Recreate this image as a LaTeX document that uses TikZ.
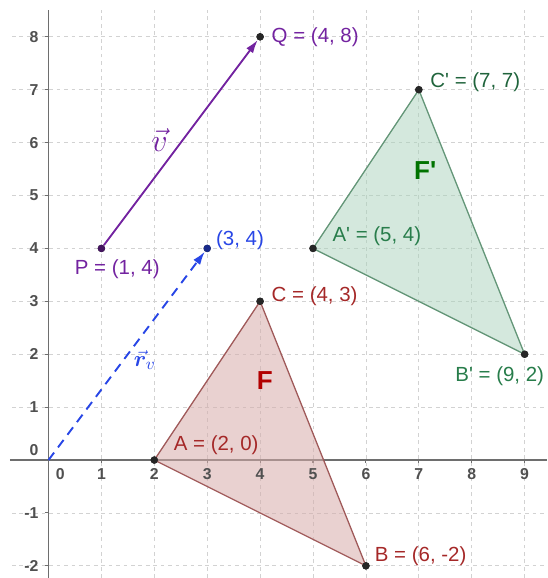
\documentclass[tikz,border=0pt]{standalone}
\usepackage{amsmath}
\usepackage{bm}
\usepackage{fontspec}
\setmainfont{Liberation Sans}
\usepackage{tikz}
\usepackage{xcolor}
\usetikzlibrary{arrows.meta, positioning}

\definecolor{vpurple}{RGB}{115,35,160}
\definecolor{rblue}{RGB}{40,70,230}
\definecolor{redlbl}{RGB}{165,40,40}
\definecolor{greenlbl}{RGB}{40,125,75}
\definecolor{fillF}{RGB}{215,172,170}
\definecolor{edgeF}{RGB}{160,90,90}
\definecolor{fillG}{RGB}{170,210,188}
\definecolor{edgeG}{RGB}{100,150,120}
\definecolor{axisgray}{RGB}{110,110,110}
\definecolor{ticklbl}{RGB}{80,80,80}

\begin{document}
\begin{tikzpicture}[
    gridline/.style={draw=gray!35, line width=0.4pt, dash pattern=on 2pt off 2pt},
    axis/.style={draw=axisgray, line width=1pt},
    ticknum/.style={font=\fontsize{8.5}{10}\selectfont\bfseries, text=ticklbl, inner sep=1pt},
    pt/.style={circle, fill=black!85, inner sep=0pt, minimum size=4pt},
    lbl/.style={font=\fontsize{11}{13}\selectfont, inner sep=1pt},
    vecarr/.style={-{Latex[length=2.5mm, width=1.6mm]}, line width=1pt}
]
\useasboundingbox (-0.917,-2.23) rectangle (9.424,8.696);

% grid
\foreach \x in {1,...,9}
  \draw[gridline] (\x,-2.23) -- (\x,8.5);
\foreach \y in {-2,...,8}
  \draw[gridline] (-0.69,\y) -- (9.424,\y);

% axes
\draw[axis] (-0.73,0) -- (9.424,0);
\draw[axis] (0,-2.23) -- (0,8.5);
\foreach \y in {-2,-1,1,2,...,8}
  \draw[axisgray, line width=0.6pt] (-0.06,\y) -- (0,\y);
\foreach \x in {1,...,9}
  \draw[axisgray, line width=0.6pt] (\x,0) -- (\x,-0.06);

% points
\coordinate (O) at (0,0);
\node[pt] (P) at (1,4) {};
\node[pt] (Q) at (4,8) {};
\node[pt] (R) at (3,4) {};
\node[pt] (A) at (2,0) {};
\node[pt] (B) at (6,-2) {};
\node[pt] (C) at (4,3) {};
\node[pt] (Ap) at (5,4) {};
\node[pt] (Bp) at (9,2) {};
\node[pt] (Cp) at (7,7) {};

% triangles
\filldraw[fill=fillF, fill opacity=0.55, draw=edgeF, line width=0.7pt] (A.center) -- (B.center) -- (C.center) -- cycle;
\filldraw[fill=fillG, fill opacity=0.5, draw=edgeG, line width=0.7pt] (Ap.center) -- (Bp.center) -- (Cp.center) -- cycle;
\foreach \n in {A,B,C,Ap,Bp,Cp}
  \fill[black!85] (\n) circle (2pt);

% tick labels
\foreach \y in {-2,-1,1,2,...,8}
  \node[ticknum, anchor=east] (ty\y) at (-0.15,\y) {\y};
\node[ticknum, anchor=east] (ty0) at (-0.15,0.18) {0};
\node[ticknum, anchor=north] (tx0) at (0.22,-0.12) {0};
\foreach \x in {1,...,9}
  \node[ticknum, anchor=north] (tx\x) at (\x,-0.12) {\x};

% vectors
\draw[vecarr, vpurple] (P) -- (Q);
\draw[vecarr, rblue, dashed, dash pattern=on 5pt off 3.5pt] (O) -- (R);
\fill[vpurple!60!black] (P) circle (2pt);
\fill[black!85] (Q) circle (2pt);
\fill[rblue!60!black] (R) circle (2pt);

\node[font=\fontsize{17}{19}\selectfont, text=vpurple] (vlbl) at (2.1,6.05) {$\vec{v}$};
\node[font=\fontsize{13}{15}\selectfont, text=rblue] (rlbl) at (1.82,1.89) {$\vec{\bm{r}}_{v}$};

% labels
\node[lbl, text=vpurple, below=0.1cm of P, xshift=0.3cm] (Plbl) {P = (1, 4)};
\node[lbl, text=vpurple, right=0.1cm of Q] (Qlbl) {Q = (4, 8)};
\node[lbl, text=rblue, right=0.05cm of R, yshift=0.15cm] (Rlbl) {(3, 4)};
\node[lbl, text=redlbl, right=0.1cm of C, yshift=0.1cm] (Clbl) {C = (4, 3)};
\node[lbl, text=redlbl, right=0.25cm of A, yshift=0.28cm] (Albl) {A = (2, 0)};
\node[lbl, text=redlbl, right=0.05cm of B, yshift=0.19cm] (Blbl) {B = (6, -2)};
\node[lbl, text=greenlbl!80!black, right=0.1cm of Cp, yshift=0.15cm] (Cplbl) {C\textquotesingle{} = (7, 7)};
\node[lbl, text=greenlbl, right=0.25cm of Ap, yshift=0.23cm] (Aplbl) {A\textquotesingle{} = (5, 4)};
\node[lbl, text=greenlbl, below=0.12cm of Bp, xshift=-0.47cm] (Bplbl) {B\textquotesingle{} = (9, 2)};

\node[font=\fontsize{14}{16}\selectfont\bfseries, text=red!70!black] (Flbl) at (4.09,1.51) {F};
\node[font=\fontsize{14}{16}\selectfont\bfseries, text=green!45!black] (Fplbl) at (7.12,5.48) {F\textquotesingle};

\end{tikzpicture}
\end{document}
